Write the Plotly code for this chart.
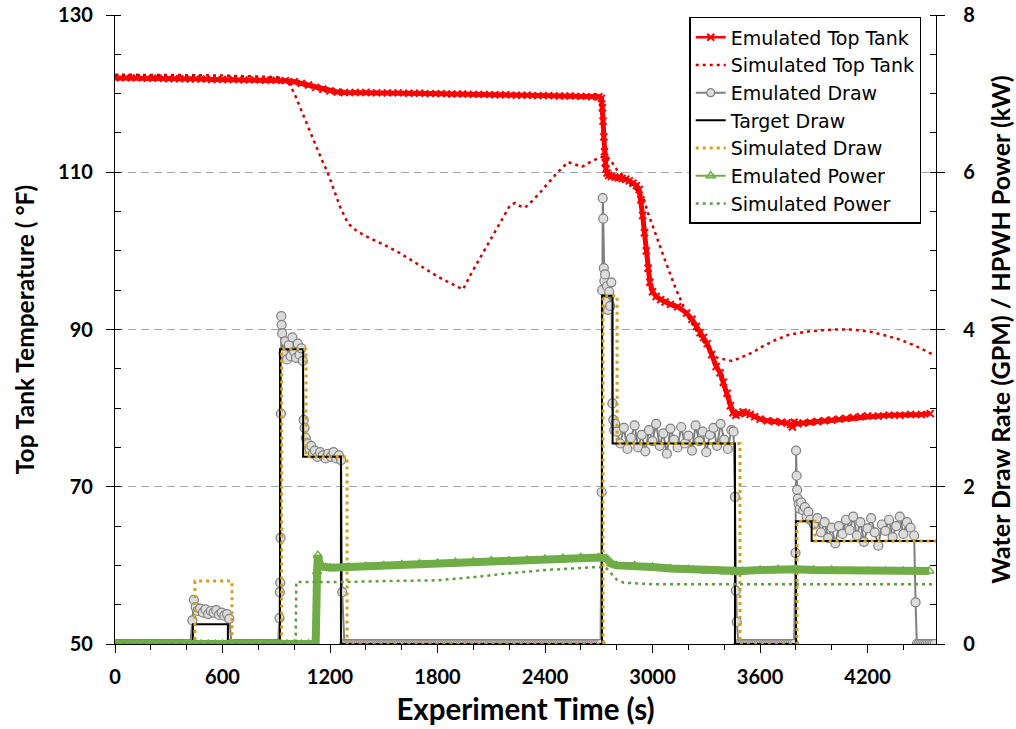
import plotly.graph_objects as go

# ---------------- Data ----------------
# Emulated top tank temperature (°F) vs experiment time (s)
emu_tank_t = [0, 60, 120, 180, 240, 300, 360, 420, 480, 540,
              600, 660, 720, 780, 840, 900, 950, 1000, 1040, 1080,
              1120, 1160, 1200, 1240, 1280, 1340, 1400, 1460, 1520, 1580,
              1640, 1700, 1760, 1820, 1880, 1940, 2000, 2060, 2120, 2180,
              2240, 2300, 2360, 2420, 2480, 2540, 2600, 2660, 2700, 2715,
              2720, 2724, 2728, 2732, 2736, 2740, 2746, 2755, 2770, 2790,
              2810, 2830, 2850, 2870, 2890, 2910, 2925, 2935, 2945, 2955,
              2965, 2975, 2985, 3000, 3020, 3045, 3070, 3100, 3140, 3190,
              3220, 3245, 3265, 3285, 3305, 3330, 3355, 3377, 3395, 3416,
              3435, 3449, 3465, 3485, 3505, 3525, 3545, 3570, 3600, 3640,
              3680, 3720, 3750, 3770, 3780, 3790, 3810, 3840, 3880, 3920,
              3960, 4000, 4040, 4080, 4120, 4160, 4200, 4260, 4320, 4380,
              4440, 4500, 4550]
emu_tank_v = [122.0, 122.0, 122.0, 121.95, 121.95, 121.9, 121.9, 121.85, 121.85, 121.8,
              121.8, 121.8, 121.75, 121.75, 121.7, 121.7, 121.65, 121.5, 121.3, 121.1,
              120.8, 120.55, 120.35, 120.2, 120.15, 120.15, 120.15, 120.1, 120.1, 120.1,
              120.05, 120.05, 120.0, 120.0, 119.95, 119.95, 119.9, 119.9, 119.85, 119.85,
              119.8, 119.8, 119.75, 119.75, 119.7, 119.7, 119.65, 119.6, 119.6, 119.4,
              118.2, 116.5, 114.5, 112.6, 111.2, 110.4, 109.9, 109.6, 109.45, 109.4,
              109.3, 109.2, 109.1, 108.9, 108.6, 108.3, 107.8, 106.5, 104.5, 102.3,
              100.0, 97.8, 96.0, 94.8, 94.2, 93.8, 93.5, 93.2, 92.9, 92.1,
              91.3, 90.4, 89.6, 89.0, 88.2, 86.8, 85.3, 84.5, 83.3, 81.9,
              80.3, 79.4, 79.1, 79.3, 79.5, 79.4, 79.2, 78.9, 78.6, 78.4,
              78.3, 78.2, 78.1, 77.9, 77.6, 78.2, 78.0, 78.1, 78.2, 78.3,
              78.4, 78.5, 78.6, 78.7, 78.8, 78.9, 79.0, 79.0, 79.1, 79.1,
              79.2, 79.2, 79.3]

# Simulated top tank temperature (°F)
sim_tank_t = [0, 200, 400, 600, 800, 900, 940, 977, 1005, 1032,
              1070, 1105, 1150, 1188, 1225, 1256, 1300, 1350, 1406, 1500,
              1591, 1700, 1803, 1880, 1942, 1990, 2054, 2130, 2205, 2233,
              2260, 2288, 2330, 2372, 2420, 2467, 2528, 2570, 2606, 2660,
              2707, 2746, 2775, 2802, 2830, 2874, 2910, 2947, 2975, 3003,
              3035, 3070, 3126, 3198, 3276, 3349, 3400, 3444, 3500, 3560,
              3610, 3680, 3756, 3850, 3940, 4020, 4100, 4200, 4290, 4382,
              4470, 4566]
sim_tank_v = [122.4, 122.4, 122.35, 122.3, 122.2, 122.1, 121.8, 121.1, 119.8, 118.3,
              116.1, 114.1, 111.8, 109.9, 107.6, 105.6, 103.5, 102.5, 101.8, 100.8,
              99.7, 98.2, 96.7, 95.8, 95.1, 97.2, 99.7, 102.8, 105.8, 106.1,
              105.7, 105.5, 106.4, 107.4, 108.7, 109.9, 111.3, 111.0, 110.7, 111.4,
              111.9, 112.0, 111.2, 110.3, 109.7, 108.6, 107.8, 106.9, 104.8, 103.0,
              100.9, 98.8, 95.4, 91.6, 88.7, 86.5, 86.2, 86.0, 86.5, 87.1,
              87.8, 88.6, 89.3, 89.7, 89.9, 90.0, 90.0, 89.8, 89.3, 88.7,
              87.9, 86.8]

# Target draw (GPM), step changes
target_t = [0, 435, 630, 921, 1050, 1261, 2718, 2777, 3460, 3801, 3888, 4582]
target_v = [0, 0.25, 0, 3.75, 2.38, 0, 4.43, 2.55, 0, 1.56, 1.31, 1.31]

# Simulated draw (GPM), step changes
sim_draw_t = [0, 446, 653, 930, 1066, 1295, 2724, 2802, 3488, 3806, 3907, 4582]
sim_draw_v = [0, 0.80, 0, 3.75, 2.38, 0, 4.43, 2.55, 0, 1.56, 1.31, 1.31]

# Emulated draw (GPM): idle stretches logged at zero, plus the draw events
draw_idle_spans = [(0, 420), (650, 910), (1280, 2710), (3480, 3790), (4475, 4575)]
draw_log_step = 10

draw_a_t = [432, 440, 450, 460, 475, 490, 505, 520, 535, 550, 565, 580, 595, 610, 625, 638]
draw_a_v = [0.30, 0.56, 0.47, 0.42, 0.45, 0.40, 0.44, 0.38, 0.42, 0.40, 0.43, 0.37, 0.40, 0.36, 0.38, 0.32]

draw_b_t = [918, 920, 922, 924, 926, 928, 930, 933, 940, 950,
            960, 970, 980, 990, 1000, 1010, 1020, 1030, 1040, 1048,
            1053, 1058, 1065, 1075, 1085, 1095, 1105, 1115, 1130, 1145,
            1160, 1175, 1190, 1205, 1220, 1235, 1250, 1262, 1268]
draw_b_v = [0.33, 0.66, 0.78, 1.35, 2.93, 4.17, 4.06, 3.95, 3.70, 3.85,
            3.62, 3.80, 3.66, 3.90, 3.72, 3.64, 3.82, 3.68, 3.76, 3.60,
            2.85, 2.75, 2.62, 2.55, 2.48, 2.52, 2.42, 2.46, 2.38, 2.44,
            2.40, 2.36, 2.42, 2.38, 2.44, 2.36, 2.40, 2.34, 0.66]

draw_c_t = [2716, 2719, 2722, 2725, 2728, 2731, 2735, 2740, 2746, 2752,
            2758, 2764, 2770, 2776, 2781, 2786, 2792,
            2800, 2820, 2840, 2860, 2880, 2900, 2920, 2940, 2960, 2980,
            3000, 3020, 3040, 3060, 3080, 3100, 3120, 3140, 3160, 3180,
            3200, 3220, 3240, 3260, 3280, 3300, 3320, 3340, 3360, 3380,
            3400, 3420, 3440, 3452, 3460, 3465, 3470]
draw_c_v = [1.93, 4.50, 5.67, 5.41, 4.78, 4.62, 4.70, 4.35, 4.55, 4.25,
            4.48, 4.30, 4.60, 3.06, 2.85, 2.72, 2.80,
            2.70, 2.55, 2.75, 2.48, 2.62, 2.78, 2.50, 2.66, 2.45, 2.72,
            2.58, 2.80, 2.52, 2.68, 2.42, 2.74, 2.60, 2.50, 2.76, 2.55,
            2.65, 2.46, 2.78, 2.58, 2.70, 2.44, 2.66, 2.75, 2.52, 2.80,
            2.60, 2.48, 2.72, 2.70, 1.87, 0.68, 0.28]

draw_d_t = [3798, 3801, 3804, 3807, 3811, 3816, 3822, 3830, 3840, 3850,
            3860, 3870, 3880,
            3900, 3920, 3940, 3960, 3980, 4000, 4020, 4040, 4060, 4080,
            4100, 4120, 4140, 4160, 4180, 4200, 4220, 4240, 4260, 4280,
            4300, 4320, 4340, 4360, 4380, 4400, 4420, 4440, 4460, 4468]
draw_d_v = [1.16, 2.46, 2.14, 1.96, 1.85, 1.78, 1.72, 1.80, 1.70, 1.74,
            1.62, 1.68, 1.58,
            1.52, 1.60, 1.42, 1.55, 1.35, 1.48, 1.28, 1.50, 1.40, 1.58,
            1.45, 1.62, 1.38, 1.55, 1.30, 1.47, 1.60, 1.42, 1.25, 1.52,
            1.44, 1.58, 1.36, 1.50, 1.62, 1.40, 1.55, 1.48, 1.38, 0.53]

# Emulated HPWH power (kW)
pow_idle_span = (0, 1120)
pow_log_step = 40
pow_t = [1128, 1132, 1140, 1150, 1175, 1200, 1300, 1400, 1500, 1600,
         1700, 1800, 1900, 2000, 2100, 2200, 2300, 2400, 2500, 2600,
         2700, 2740, 2770, 2800, 2900, 3000, 3100, 3200, 3300, 3400,
         3460, 3500, 3600, 3700, 3800, 3900, 4000, 4100, 4200, 4300,
         4400, 4545]
pow_v = [0.92, 1.13, 1.04, 0.99, 0.97, 0.97, 0.98, 0.99, 1.00, 1.01,
         1.02, 1.03, 1.04, 1.05, 1.06, 1.06, 1.07, 1.08, 1.09, 1.10,
         1.10, 1.09, 1.02, 1.00, 1.00, 0.98, 0.96, 0.95, 0.93, 0.92,
         0.91, 0.93, 0.94, 0.95, 0.95, 0.94, 0.94, 0.93, 0.93, 0.93,
         0.93, 0.93]

# Simulated HPWH power (kW)
spow_t = [0, 1008, 1012, 1100, 1300, 1500, 1700, 1800, 2000, 2200,
          2400, 2600, 2700, 2740, 2770, 2800, 2840, 2900, 3000, 3500,
          4000, 4582]
spow_v = [0, 0, 0.79, 0.79, 0.79, 0.80, 0.81, 0.81, 0.85, 0.90,
          0.94, 0.97, 0.98, 0.97, 0.90, 0.82, 0.78, 0.77, 0.76, 0.76,
          0.76, 0.76]

# ---------------- assemble the emulated draw / power series ----------------
def idle(a, b, step):
    t = list(range(a, b + 1, step))
    return t, [0.0] * len(t)

emu_draw_t, emu_draw_v = [], []
idle_parts = [idle(a, b, draw_log_step) for a, b in draw_idle_spans]
active_parts = [(draw_a_t, draw_a_v), (draw_b_t, draw_b_v),
                (draw_c_t, draw_c_v), (draw_d_t, draw_d_v)]
for i, (it, iv) in enumerate(idle_parts):
    emu_draw_t += it
    emu_draw_v += iv
    if i < len(active_parts):
        emu_draw_t += active_parts[i][0]
        emu_draw_v += active_parts[i][1]

pit, piv = idle(pow_idle_span[0], pow_idle_span[1], pow_log_step)
emu_pow_t = pit + pow_t
emu_pow_v = piv + pow_v

# ---------------- styling ----------------
RED = "#ff0000"
DRED = "#d40000"
GRAY = "#7f7f7f"
GOLD = "#d4a017"
GREEN = "#70ad47"
DGREEN = "#5e9c3c"
FONT = "Lato"

fig = go.Figure()

fig.add_trace(go.Scatter(
    x=emu_tank_t, y=emu_tank_v, mode="lines+markers", showlegend=False,
    line=dict(color=RED, width=5),
    marker=dict(symbol="x-thin", size=7, line=dict(color=RED, width=2), color=RED)))
fig.add_trace(go.Scatter(
    x=sim_tank_t, y=sim_tank_v, mode="lines", name="Simulated Top Tank", legendrank=2,
    line=dict(color=DRED, width=2.5, dash="3px,4px")))
fig.add_trace(go.Scatter(
    x=emu_draw_t, y=emu_draw_v, yaxis="y2", mode="lines+markers", showlegend=False,
    line=dict(color=GRAY, width=2),
    marker=dict(symbol="circle", size=9, color="#dcdcdc", line=dict(color=GRAY, width=1.2))))
fig.add_trace(go.Scatter(
    x=target_t, y=target_v, yaxis="y2", mode="lines", name="Target Draw", legendrank=4,
    line=dict(color="black", width=2, shape="hv")))
fig.add_trace(go.Scatter(
    x=sim_draw_t, y=sim_draw_v, yaxis="y2", mode="lines", name="Simulated Draw", legendrank=5,
    line=dict(color=GOLD, width=3, dash="3px,4px", shape="hv")))
fig.add_trace(go.Scatter(
    x=emu_pow_t, y=emu_pow_v, yaxis="y2", mode="lines+markers", showlegend=False,
    line=dict(color=GREEN, width=8),
    marker=dict(symbol="triangle-up-open", size=8, color=GREEN, line=dict(color=GREEN, width=1.5))))
fig.add_trace(go.Scatter(
    x=spow_t, y=spow_v, yaxis="y2", mode="lines", name="Simulated Power", legendrank=7,
    line=dict(color=DGREEN, width=2.5, dash="3px,4px")))

# legend-only entries with thin sample lines
fig.add_trace(go.Scatter(
    x=[None], y=[None], mode="lines+markers", name="Emulated Top Tank", legendrank=1,
    line=dict(color=RED, width=2.5),
    marker=dict(symbol="x-thin", size=7, color=RED, line=dict(color=RED, width=2))))
fig.add_trace(go.Scatter(
    x=[None], y=[None], mode="lines+markers", name="Emulated Draw", legendrank=3,
    line=dict(color=GRAY, width=2),
    marker=dict(symbol="circle", size=8, color="#dcdcdc", line=dict(color=GRAY, width=1.2))))
fig.add_trace(go.Scatter(
    x=[None], y=[None], mode="lines+markers", name="Emulated Power", legendrank=6,
    line=dict(color=GREEN, width=2),
    marker=dict(symbol="triangle-up-open", size=8, color=GREEN, line=dict(color=GREEN, width=1.5))))

tickfont = dict(family=FONT, size=20, color="black", weight="bold")

fig.update_layout(
    width=1016, height=729,
    margin=dict(l=115, r=80, t=15, b=85, autoexpand=False),
    paper_bgcolor="white", plot_bgcolor="white",
    font=dict(family=FONT, color="black"),
    xaxis=dict(
        range=[0, 4582], tick0=0, dtick=600, showgrid=False, zeroline=False,
        automargin=False,
        showline=True, linecolor="black", linewidth=1.3,
        ticks="outside", ticklen=8, tickwidth=1.3, tickcolor="black",
        ticklabelstandoff=7,
        minor=dict(dtick=200, ticks="outside", ticklen=5, tickwidth=1.2, tickcolor="black", showgrid=False),
        tickfont=tickfont,
        title=dict(text="Experiment Time (s)", font=dict(family=FONT, size=29.5, color="black", weight="bold"),
                   standoff=12)),
    yaxis=dict(
        range=[50, 130], tick0=50, dtick=20, zeroline=False, automargin=False,
        showgrid=True, gridcolor="#a6a6a6", gridwidth=1, griddash="8px,5px",
        showline=True, linecolor="black", linewidth=1.3,
        ticks="outside", ticklen=8, tickwidth=1.3, tickcolor="black",
        ticklabelstandoff=9,
        minor=dict(dtick=5, ticks="inside", ticklen=6, tickwidth=1.2, tickcolor="black", showgrid=False),
        tickfont=tickfont,
        title=dict(text="Top Tank Temperature ( °F)",
                   font=dict(family=FONT, size=24.5, color="black", weight="bold"), standoff=16)),
    yaxis2=dict(
        overlaying="y", side="right", range=[0, 8], tick0=0, dtick=2,
        showgrid=False, zeroline=False, automargin=False,
        showline=True, linecolor="black", linewidth=1.3,
        ticks="outside", ticklen=8, tickwidth=1.3, tickcolor="black",
        ticklabelstandoff=14,
        minor=dict(dtick=0.5, ticks="inside", ticklen=6, tickwidth=1.2, tickcolor="black", showgrid=False),
        tickfont=tickfont,
        title=dict(text="Water Draw Rate (GPM) / HPWH Power (kW)",
                   font=dict(family=FONT, size=25, color="black", weight="bold"), standoff=18)),
    legend=dict(
        x=0.982, y=0.997, xanchor="right", yanchor="top",
        bgcolor="white", bordercolor="black", borderwidth=1.5,
        font=dict(family="DejaVu Sans", size=19, color="black"),
        tracegroupgap=0, itemwidth=30),
)

fig.write_html("out.html")
